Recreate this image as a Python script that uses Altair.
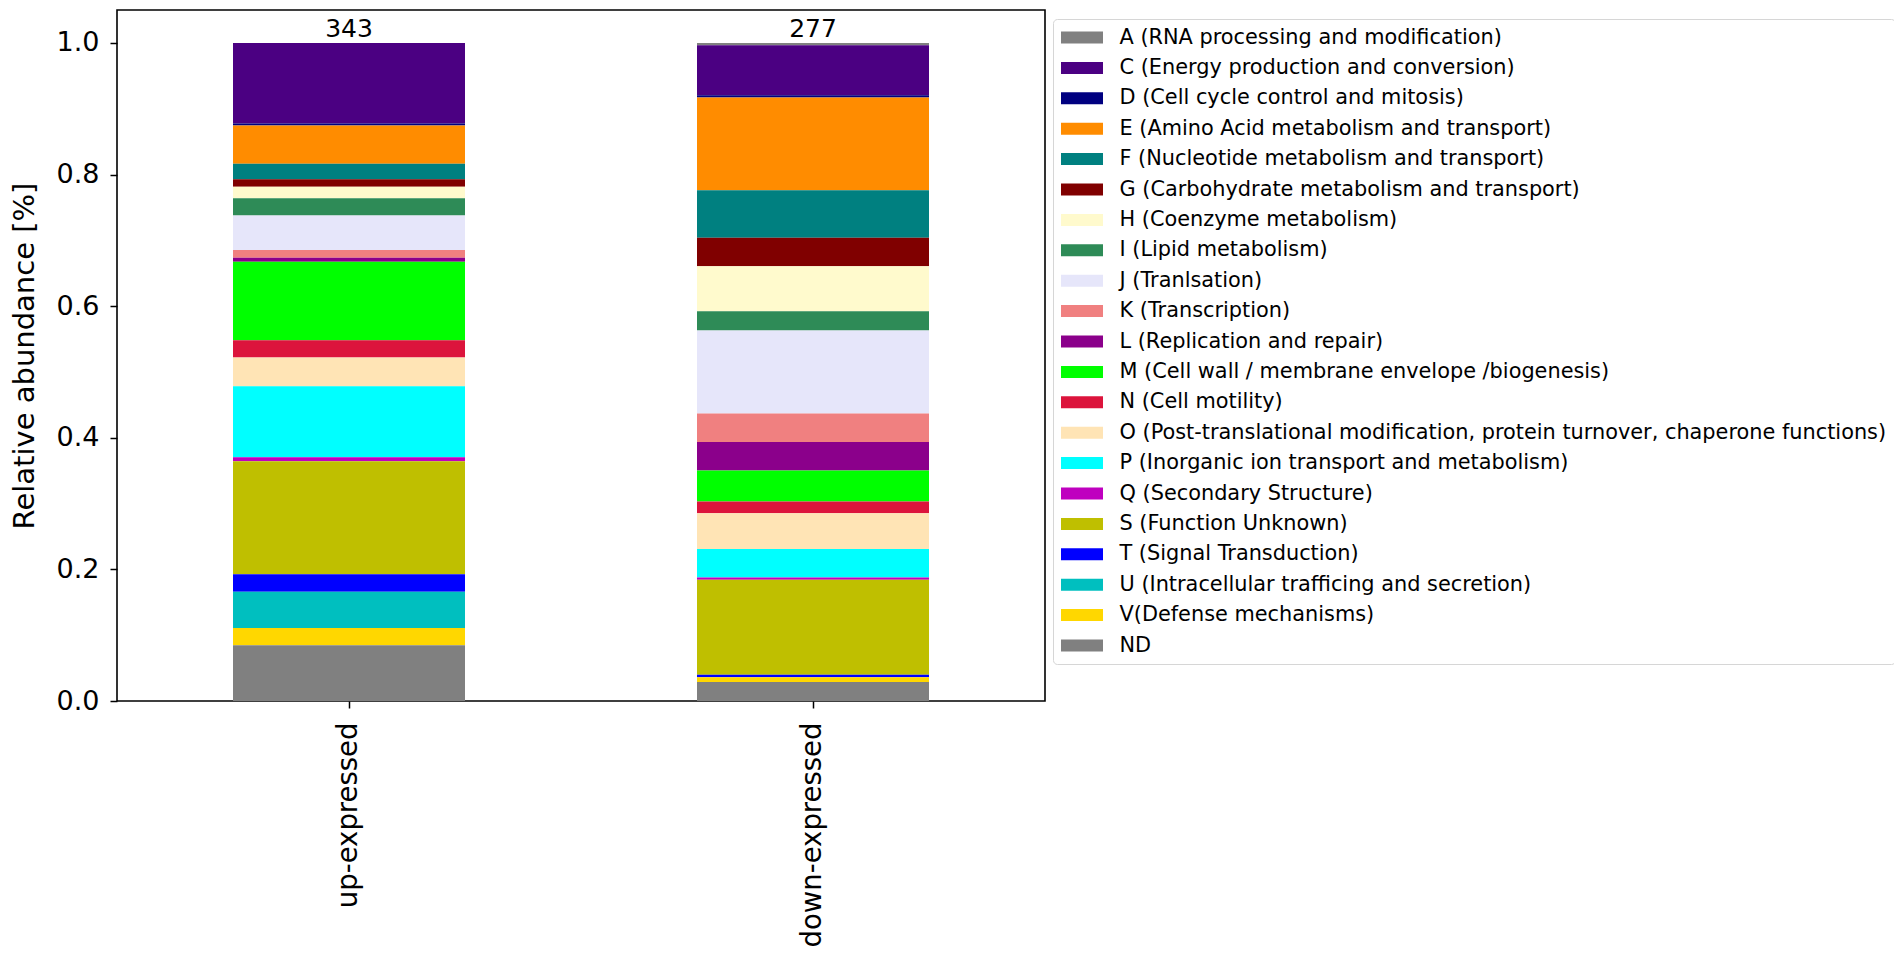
import altair as alt
import pandas as pd

groups = ["up-expressed", "down-expressed"]
totals = [343, 277]

categories = [
    "A (RNA processing and modification)",
    "C (Energy production and conversion)",
    "D (Cell cycle control and mitosis)",
    "E (Amino Acid metabolism and transport)",
    "F (Nucleotide metabolism and transport)",
    "G (Carbohydrate metabolism and transport)",
    "H (Coenzyme metabolism)",
    "I (Lipid metabolism)",
    "J (Tranlsation)",
    "K (Transcription)",
    "L (Replication and repair)",
    "M (Cell wall / membrane envelope /biogenesis)",
    "N (Cell motility)",
    "O (Post-translational modification, protein turnover, chaperone functions)",
    "P (Inorganic ion transport and metabolism)",
    "Q (Secondary Structure)",
    "S (Function Unknown)",
    "T (Signal Transduction)",
    "U (Intracellular trafficing and secretion)",
    "V(Defense mechanisms)",
    "ND",
]

colors = [
    "#808080", "#4b0082", "#000080", "#ff8c00", "#008080", "#800000",
    "#fffacd", "#2e8b57", "#e6e6fa", "#f08080", "#8b008b", "#00ff00",
    "#dc143c", "#ffe4b5", "#00ffff", "#bf00bf", "#bfbf00", "#0000ff",
    "#00bfbf", "#ffd700", "#808080",
]

up_counts = [0, 42, 1, 20, 8, 4, 6, 9, 18, 4, 2, 41, 9, 15, 37, 2, 59, 9, 19, 9, 29]
down_counts = [1, 21, 1, 39, 20, 12, 19, 8, 35, 12, 12, 13, 5, 15, 12, 1, 40, 1, 0, 2, 8]

rows = []
for g, tot, counts in zip(groups, totals, [up_counts, down_counts]):
    for i, (cat, c) in enumerate(zip(categories, counts)):
        rows.append({"group": g, "category": cat, "idx": i, "frac": c / tot})
df = pd.DataFrame(rows)

tops = df.groupby("group", sort=False)["frac"].sum()
lab = pd.DataFrame({"group": groups, "total": [str(t) for t in totals],
                    "top": [tops[g] for g in groups]})

FONT = "DejaVu Sans"
SYM = 21

xenc = alt.X(
    "group:N", sort=groups,
    scale=alt.Scale(paddingInner=0.5, paddingOuter=0.25),
    axis=alt.Axis(title="", labelAngle=270, labelAlign="right", labelBaseline="middle",
                  labelPadding=14, labelFontSize=27.5, labelLimit=1000),
)

bars = alt.Chart(df).mark_bar().encode(
    x=xenc,
    y=alt.Y("frac:Q", stack="zero",
            scale=alt.Scale(domain=[0, 1.05], nice=False, zero=True),
            axis=alt.Axis(title="Relative abundance [%]", values=[0, 0.2, 0.4, 0.6, 0.8, 1.0],
                          format=".1f", labelFontSize=27, titleFontSize=29,
                          titleFontWeight="normal", labelPadding=11, titlePadding=17)),
    color=alt.Color("category:N", scale=alt.Scale(domain=categories, range=colors),
                    sort=categories, title=None,
                    legend=alt.Legend(orient="none", legendX=936, legendY=9,
                                      symbolType="M-2,-0.5714L2,-0.5714L2,0.5714L-2,0.5714Z",
                                      symbolSize=SYM * SYM, symbolStrokeWidth=0,
                                      symbolOpacity=1, symbolOffset=10.5,
                                      labelFontSize=20.85, labelFont=FONT, labelColor="black",
                                      labelLimit=2000, labelOffset=27, rowPadding=8.4,
                                      padding=8, strokeColor="#d6d6d6", fillColor="white",
                                      cornerRadius=4)),
    order=alt.Order("idx:Q", sort="descending"),
)

texts = alt.Chart(lab).mark_text(baseline="alphabetic", dy=-6, fontSize=25, font=FONT,
                                 color="black").encode(
    x=alt.X("group:N", sort=groups),
    y=alt.Y("top:Q"),
    text="total:N",
)

chart = alt.layer(bars, texts).properties(
    width=928, height=691,
    autosize=alt.AutoSizeParams(type="none"),
    padding={"left": 109, "top": 2, "right": 849, "bottom": 249},
).configure_view(
    stroke="black", strokeWidth=1.6
).configure_axis(
    domain=False, grid=False, ticks=True, tickSize=7, tickWidth=1.5, tickColor="black",
    labelColor="black", titleColor="black", labelFont=FONT, titleFont=FONT,
).configure_legend(
    labelFont=FONT
)

chart.save("out.html", embed_options={"renderer": "svg", "actions": False})
